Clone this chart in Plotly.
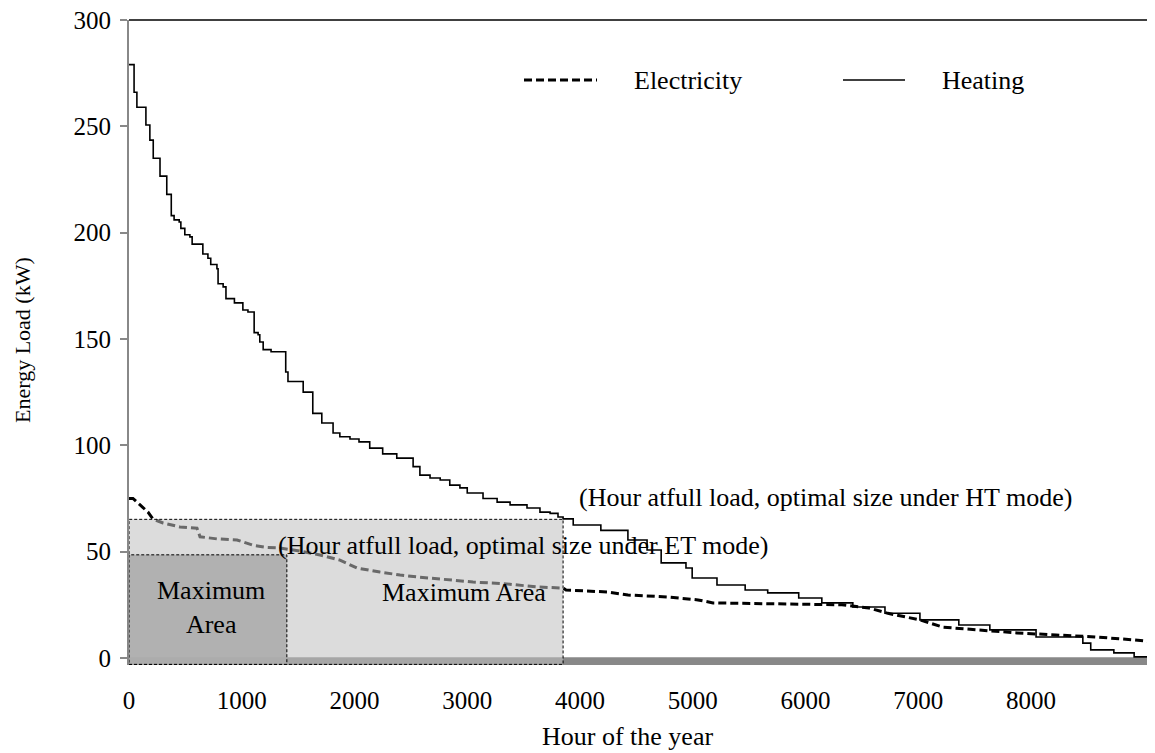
import plotly.graph_objects as go

# ---------------- data ----------------
heat_hours = [0, 45, 70, 150, 185, 215, 275, 335, 375, 400, 445, 460, 495, 540, 560, 655, 700, 725,
              780, 790, 835, 860, 935, 1010, 1055, 1110, 1145, 1160, 1190, 1260, 1390, 1410, 1545,
              1630, 1710, 1810, 1870, 1960, 2040, 2135, 2250, 2375, 2520, 2580, 2670, 2760, 2845,
              2935, 3000, 3140, 3265, 3380, 3530, 3645, 3735, 3805, 3850, 3940, 4185, 4425, 4595,
              4720, 4940, 4995, 5215, 5465, 5665, 5940, 6145, 6420, 6705, 7015, 7360, 7635, 8045,
              8460, 8530, 8735, 8915, 9100]
heat_kw = [279, 266, 259, 250.6, 243.5, 235, 226.6, 218, 208, 206, 205, 202, 199, 198, 194.6, 190, 188, 185,
           183, 176, 174.5, 169, 167, 163.6, 162.7, 153, 152, 148.6, 145, 144, 134.5, 130, 125,
           115, 110.5, 105.8, 104, 103, 101.6, 98.7, 96, 94, 90, 86, 84.6, 83.7, 81.3,
           80, 77.6, 75, 73.3, 72, 70.5, 68.6, 68, 66.3, 65.4, 62.5, 60, 55.5, 50.8,
           44.7, 42.3, 37.6, 34.3, 32, 30.6, 28.2, 25.9, 24, 21, 17.9, 15.5, 13.2, 9.9,
           7, 3.8, 2.4, 0.5, 0.3]

elec_hours = [0, 35, 98, 168, 213, 302, 452, 603, 630, 780, 958, 1100, 1224, 1340, 1517, 1694, 1871,
              2022, 2226, 2404, 2581, 2820, 3051, 3317, 3619, 3850, 3876, 4248, 4426, 4772, 5047,
              5180, 6323, 6563, 6731, 7015, 7219, 7530, 7876, 8222, 8568, 8914, 9100]
elec_kw = [75, 75, 72, 68.6, 65.3, 63.5, 61.6, 61, 57, 56, 55.5, 53, 52, 51.7, 50.3, 48.4, 46,
           42.3, 40.4, 39, 38, 36.7, 35.7, 35, 33.4, 32.9, 32, 31, 29.6, 28.7, 27.3,
           25.9, 25, 23.5, 21, 17.9, 14.5, 13.2, 11.8, 10.8, 9.9, 8.5, 7.5]

# optimal sizes / full-load hours
et_hours, et_kw = 1400, 48.5
ht_hours, ht_kw = 3850, 65.2

x_ticks = [0, 1000, 2000, 3000, 4000, 5000, 6000, 7000, 8000]
y_ticks = [0, 50, 100, 150, 200, 250, 300]

X_MAX = 9100
Y_MIN, Y_MAX = -3.3, 300

FONT = "Liberation Serif, Times New Roman, serif"
FS = 26
FS_TICK = 25

# layout geometry (figure pixels; the page adds an 8px body margin)
OFF = 8
W, H = 1147, 745
L, R, T, B = 121, 0, 12, 88
PW, PH = W - L - R, H - T - B


def px(x):  # page x -> paper
    return (x - OFF - L) / PW


def py(y):  # page y -> paper
    return (H - B - (y - OFF)) / PH


fig = go.Figure()

fig.add_trace(go.Scatter(x=heat_hours, y=heat_kw, mode="lines", line_shape="hv",
                         line=dict(color="black", width=1.6), name="Heating",
                         showlegend=False, hoverinfo="skip"))
fig.add_trace(go.Scatter(x=elec_hours, y=elec_kw, mode="lines",
                         line=dict(color="black", width=3, dash="8px,4px"), name="Electricity",
                         showlegend=False, hoverinfo="skip"))

shapes = []
# thick grey baseline band
shapes.append(dict(type="rect", xref="x", yref="y", x0=0, x1=X_MAX, y0=Y_MIN, y1=0.4,
                   fillcolor="#888888", line=dict(width=0), layer="below"))
# HT-mode area (light)
shapes.append(dict(type="rect", xref="x", yref="y", x0=0, x1=ht_hours, y0=Y_MIN + 0.3, y1=ht_kw,
                   fillcolor="rgba(191,191,191,0.55)",
                   line=dict(color="black", width=1, dash="3px,2px"), layer="above"))
# ET-mode area (dark)
shapes.append(dict(type="rect", xref="x", yref="y", x0=0, x1=et_hours, y0=Y_MIN + 0.3, y1=et_kw,
                   fillcolor="rgba(173,173,173,0.92)",
                   line=dict(color="black", width=1, dash="3px,2px"), layer="above"))
# top border line
shapes.append(dict(type="line", xref="paper", yref="paper", x0=0, x1=1, y0=1, y1=1,
                   line=dict(color="black", width=1.5)))
# legend samples
shapes.append(dict(type="line", xref="paper", yref="paper", x0=px(524), x1=px(597),
                   y0=py(80), y1=py(80), line=dict(color="black", width=3, dash="8px,4px")))
shapes.append(dict(type="line", xref="paper", yref="paper", x0=px(843), x1=px(905),
                   y0=py(80), y1=py(80), line=dict(color="black", width=1.5)))

font = dict(family=FONT, size=FS, color="black")
tfont = dict(family=FONT, size=FS_TICK, color="black")
annotations = [
    dict(text="Electricity", x=px(632), y=py(80), xanchor="left", yanchor="middle"),
    dict(text="Heating", x=px(940), y=py(80), xanchor="left", yanchor="middle"),
    dict(text="(Hour atfull load, optimal size under HT mode)", x=px(577), y=py(497),
         xanchor="left", yanchor="middle"),
    dict(text="(Hour atfull load, optimal size under ET mode)", x=px(276), y=py(545),
         xanchor="left", yanchor="middle"),
    dict(text="Maximum Area", x=px(464), y=py(592), xanchor="center", yanchor="middle"),
    dict(text="Maximum<br>Area", x=px(211), y=py(607), xanchor="center", yanchor="middle"),
    dict(text="Hour of the year", x=px(627), y=py(736), xanchor="center", yanchor="middle"),
    dict(text="Energy Load (kW)", x=px(22), y=py(340), xanchor="center", yanchor="middle",
         textangle=-90, font=dict(family=FONT, size=22, color="black")),
]
for a in annotations:
    a.setdefault("font", font)
    a.update(xref="paper", yref="paper", showarrow=False)

fig.update_layout(
    width=W, height=H,
    margin=dict(l=L, r=R, t=T, b=B, pad=0),
    paper_bgcolor="white", plot_bgcolor="white",
    shapes=shapes, annotations=annotations,
    showlegend=False,
    font=font,
)
fig.update_xaxes(range=[0, X_MAX], tickvals=x_ticks, ticktext=[str(v) for v in x_ticks],
                 showgrid=False, zeroline=False, showline=False, ticks="",
                 ticklabelstandoff=18, tickfont=tfont, ticklabeloverflow="allow")
fig.update_yaxes(range=[Y_MIN, Y_MAX], tickvals=y_ticks, ticktext=[str(v) for v in y_ticks],
                 showgrid=False, zeroline=False, showline=True, linecolor="#888888", linewidth=2,
                 ticks="outside", ticklen=7, tickcolor="#888888", tickwidth=1.5,
                 ticklabelstandoff=4, tickfont=tfont, ticklabeloverflow="allow")

fig.write_html("out.html")
